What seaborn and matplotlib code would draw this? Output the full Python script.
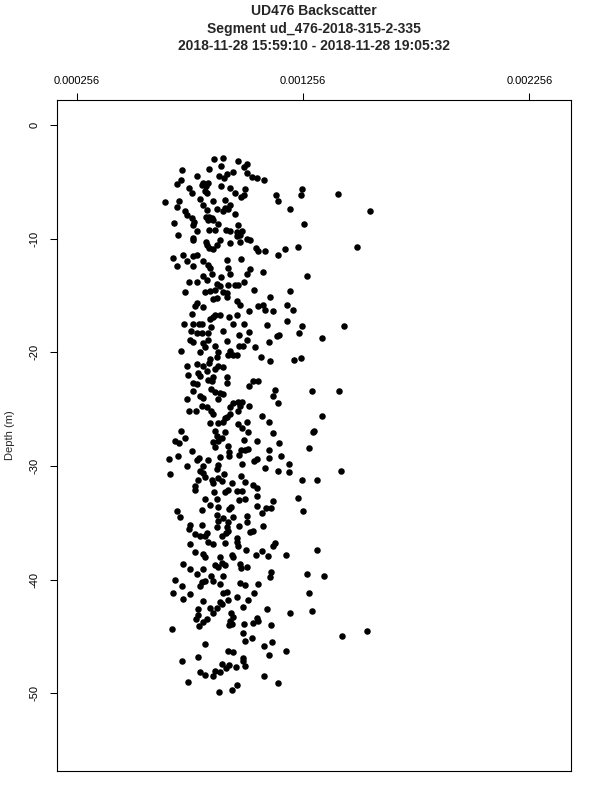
import matplotlib
matplotlib.use("Agg")
import matplotlib.pyplot as plt
import seaborn as sns
import numpy as np
import pandas as pd

# backscatter values in units of 1e-6, depth in m (5 depth bands)
bs_a = [863, 901, 967, 894, 1007, 997, 839, 723, 948, 919,
        786, 885, 907, 1010, 1029, 1051, 1085, 716, 698, 816,
        838, 827, 892, 808, 934, 754, 1000, 1250, 764, 823,
        830, 956, 981, 995, 1137, 1147, 1246, 1409, 646, 708,
        801, 860, 911, 816, 934, 698, 911, 926, 875, 901,
        735, 830, 1199, 1554, 742, 956, 827, 842, 852, 764,
        776, 857, 838, 686, 769, 882, 970, 1261, 842, 867,
        786, 916, 934, 966, 985, 705, 771, 978, 963, 889,
        771, 934, 1010, 1022, 827, 833, 842, 860, 875, 978,
        1048, 1059, 1088, 1177, 1147, 1233, 1493, 727, 769, 786]
depth_a = [-3.0, -2.9, -3.2, -3.6, -3.4, -3.7, -3.9, -4.0, -4.1, -4.3,
           -4.5, -4.5, -4.7, -4.2, -4.6, -4.7, -4.8, -4.8, -5.2, -5.1,
           -5.1, -5.4, -5.4, -5.3, -5.5, -5.5, -5.6, -5.6, -6.0, -5.8,
           -6.0, -6.0, -6.3, -6.2, -6.2, -6.7, -6.2, -6.1, -6.8, -6.7,
           -6.5, -6.7, -6.6, -7.0, -7.0, -7.2, -7.3, -7.4, -7.4, -7.6,
           -7.6, -7.5, -7.4, -7.6, -7.9, -7.8, -8.1, -8.1, -8.2, -8.2,
           -8.5, -8.4, -8.4, -8.6, -8.8, -8.7, -8.8, -8.7, -9.2, -9.2,
           -9.3, -9.2, -9.3, -9.4, -9.3, -9.7, -9.9, -9.7, -9.8, -10.1,
           -10.1, -10.4, -10.0, -10.1, -10.3, -10.6, -10.8, -10.9, -10.6, -10.3,
           -10.8, -11.1, -11.1, -10.9, -11.4, -10.7, -10.7, -11.4, -11.5, -11.4]

bs_b = [683, 742, 816, 838, 919, 981, 698, 769, 845, 926,
        1022, 1081, 934, 816, 852, 830, 892, 1007, 1272, 754,
        786, 875, 926, 956, 970, 995, 735, 823, 845, 867,
        889, 904, 922, 1040, 1199, 860, 875, 919, 1110, 963,
        978, 786, 779, 813, 1059, 1081, 1088, 1125, 1184, 1213,
        764, 867, 889, 845, 860, 931, 966, 1019, 1187, 732,
        771, 798, 808, 848, 948, 995, 1098, 1250, 1437, 760,
        786, 808, 838, 904, 1019, 975, 1240, 1140, 1152, 1342,
        757, 771, 816, 838, 922, 1007, 1106, 823, 867, 975,
        992, 1044, 716, 801, 882, 875, 845, 934, 948, 963,
        923, 1069, 1110, 1216, 1246]
depth_b = [-11.7, -12.0, -12.0, -12.3, -11.9, -11.8, -12.4, -12.4, -12.6, -12.6,
           -12.7, -12.9, -13.1, -13.3, -13.1, -13.6, -13.4, -13.1, -13.3, -13.8,
           -13.8, -14.0, -14.1, -14.1, -14.1, -13.8, -14.7, -14.7, -14.6, -14.5,
           -14.2, -14.7, -14.8, -14.5, -14.6, -15.3, -15.2, -15.1, -15.1, -15.5,
           -15.8, -15.7, -15.9, -16.0, -15.9, -15.8, -16.3, -16.4, -15.8, -16.3,
           -16.6, -16.7, -16.7, -17.1, -16.9, -16.9, -16.7, -16.4, -17.2, -17.5,
           -17.5, -17.5, -17.5, -17.8, -17.5, -17.5, -17.6, -17.7, -17.7, -18.1,
           -18.3, -18.3, -18.3, -18.1, -18.2, -18.5, -18.3, -18.6, -18.5, -18.7,
           -18.9, -19.1, -19.2, -18.9, -19.0, -18.9, -19.1, -19.5, -19.4, -19.4,
           -19.4, -19.5, -19.9, -20.0, -20.0, -20.4, -20.6, -19.9, -20.2, -20.2,
           -20.2, -20.4, -20.8, -20.7, -20.5]

bs_c = [745, 786, 842, 816, 882, 901, 794, 801, 833, 867,
        860, 746, 919, 838, 922, 771, 786, 852, 1019, 1037,
        1059, 769, 848, 867, 889, 904, 1132, 1122, 1294, 1415,
        742, 801, 816, 882, 808, 833, 948, 970, 978, 934,
        985, 1016, 1147, 754, 783, 848, 860, 970, 934, 919,
        911, 1076, 1339, 845, 882, 904, 970, 985, 1010, 1107,
        717, 867, 911, 1015, 1125, 1299, 1306, 875, 897, 690,
        735, 708, 860, 882, 995, 1054, 1152, 926, 867, 1284,
        764, 931, 981, 1015, 1000, 1106, 702, 786, 798, 838,
        889, 931, 975, 1040, 1051, 1107, 1157, 665, 745, 816,
        882, 985, 1196]
depth_c = [-21.2, -21.0, -20.9, -21.2, -21.2, -21.3, -21.8, -22.1, -21.6, -21.5,
           -22.2, -22.0, -22.2, -22.4, -22.7, -22.7, -22.8, -22.5, -23.0, -22.5,
           -22.5, -23.4, -23.2, -23.5, -23.6, -23.7, -23.3, -23.8, -23.4, -23.4,
           -24.1, -23.8, -24.0, -24.1, -24.7, -24.8, -24.5, -24.4, -24.7, -24.8,
           -24.4, -24.7, -24.5, -25.2, -25.2, -25.2, -25.4, -25.2, -25.4, -25.7,
           -25.8, -25.6, -25.6, -26.2, -26.2, -26.1, -26.3, -26.7, -26.1, -26.1,
           -26.9, -26.9, -27.0, -27.0, -27.1, -27.0, -26.9, -27.4, -27.5, -27.8,
           -27.5, -28.0, -27.9, -27.8, -27.7, -27.8, -28.0, -28.2, -28.3, -28.4,
           -28.7, -28.8, -28.6, -28.5, -28.6, -28.6, -29.1, -29.5, -29.3, -29.5,
           -29.2, -29.1, -29.0, -29.6, -29.4, -29.3, -29.1, -29.4, -30.0, -30.0,
           -29.9, -29.8, -29.8]

bs_d = [801, 1088, 1147, 1196, 1423, 668, 813, 875, 907, 794,
        823, 852, 882, 897, 981, 1000, 1250, 1319, 779, 860,
        941, 1037, 1054, 779, 864, 911, 926, 966, 985, 1051,
        1235, 823, 875, 845, 882, 975, 1000, 1122, 808, 936,
        931, 1054, 1093, 1113, 1255, 698, 875, 713, 904, 945,
        1007, 1073, 882, 926, 1007, 757, 808, 875, 919, 975,
        1081, 754, 926, 1022, 1034, 779, 801, 823, 833, 897,
        916, 963, 757, 838, 860, 911, 970, 963, 1122, 1132,
        1317, 779, 816, 823, 889, 941, 948, 1004, 1048, 1073,
        1103, 1181, 727, 867, 897, 911, 978, 1007, 981, 757,
        816, 882, 1113]
depth_d = [-30.4, -30.2, -30.4, -30.5, -30.4, -30.7, -30.6, -30.3, -30.7, -31.2,
           -31.0, -31.2, -31.1, -31.3, -30.9, -31.4, -31.2, -31.2, -31.8, -31.5,
           -31.5, -31.7, -31.9, -32.1, -32.3, -32.3, -32.1, -32.2, -32.2, -32.6,
           -32.8, -32.9, -32.9, -33.4, -33.6, -33.0, -32.9, -33.1, -33.9, -33.6,
           -33.8, -33.5, -33.7, -33.7, -34.0, -34.0, -34.3, -34.5, -34.6, -34.5,
           -34.4, -34.1, -34.8, -34.9, -34.9, -35.2, -35.2, -35.4, -35.4, -35.3,
           -35.3, -35.5, -35.7, -35.8, -35.7, -36.0, -36.2, -36.2, -35.9, -36.2,
           -35.9, -36.3, -36.9, -36.7, -36.9, -36.8, -37.0, -36.7, -37.0, -36.8,
           -37.4, -37.6, -37.7, -38.0, -38.0, -37.8, -38.0, -37.4, -37.8, -37.5,
           -37.9, -37.8, -38.6, -38.7, -38.5, -38.7, -38.6, -38.9, -39.0, -39.1,
           -39.1, -38.9, -39.3]

bs_e = [786, 848, 901, 1110, 1275, 1349, 690, 808, 823, 860,
        889, 978, 1000, 1059, 720, 801, 680, 757, 727, 904,
        922, 1041, 1284, 813, 889, 926, 966, 1012, 897, 845,
        794, 875, 990, 860, 1096, 1199, 1297, 791, 936, 945,
        783, 813, 833, 934, 941, 995, 1034, 1051, 1059, 1113,
        798, 931, 677, 990, 1427, 1540, 1000, 1029, 823, 1085,
        1118, 926, 948, 1107, 1181, 794, 990, 720, 992, 897,
        931, 916, 960, 1000, 801, 823, 867, 860, 889, 1084,
        749, 966, 1147, 886, 941]
depth_e = [-39.5, -39.7, -39.7, -39.8, -39.5, -39.7, -40.0, -40.2, -40.1, -40.1,
           -40.4, -40.3, -40.5, -40.4, -40.6, -40.6, -41.2, -41.3, -41.7, -41.2,
           -41.1, -41.2, -41.2, -41.9, -42.0, -41.8, -41.5, -41.8, -42.1, -42.5,
           -42.6, -42.5, -42.4, -42.9, -42.6, -42.9, -42.8, -43.1, -42.9, -43.3,
           -43.5, -43.7, -43.5, -43.6, -43.9, -43.9, -43.8, -43.4, -43.6, -44.0,
           -44.1, -44.0, -44.3, -44.7, -45.0, -44.5, -45.4, -45.1, -45.7, -45.8,
           -45.5, -46.3, -46.4, -46.6, -46.3, -46.8, -46.9, -47.2, -47.2, -47.4,
           -47.5, -47.8, -47.7, -47.6, -48.1, -48.4, -48.0, -48.5, -48.1, -48.5,
           -49.0, -49.3, -49.1, -49.9, -49.7]

x_ticks = [0.000256, 0.001256, 0.002256]
x_tick_labels = ["0.000256", "0.001256", "0.002256"]
y_ticks = [0, -10, -20, -30, -40, -50]
title_lines = ["UD476 Backscatter",
               "Segment ud_476-2018-315-2-335",
               "2018-11-28 15:59:10 - 2018-11-28 19:05:32"]

df = pd.DataFrame({
    "backscatter": np.array(bs_a + bs_b + bs_c + bs_d + bs_e) * 1e-6,
    "depth": depth_a + depth_b + depth_c + depth_d + depth_e,
})

sns.set_style("white")
plt.rcParams["font.family"] = ["Liberation Sans", "DejaVu Sans"]

fig = plt.figure(figsize=(6, 8), dpi=100)
ax = fig.add_axes([0.095, 0.0366, 0.8567, 0.8384])

sns.scatterplot(data=df, x="backscatter", y="depth", ax=ax,
                color="black", s=22, linewidth=0, marker="o")

ax.set_xlim(0.0001689, 0.0024403)
ax.set_ylim(-56.81, 2.2)

# top axis only, R style
ax.xaxis.tick_top()
ax.set_xticks(x_ticks)
ax.set_xticklabels(x_tick_labels)
ax.set_yticks(y_ticks)
ax.set_yticklabels([str(v) for v in y_ticks], rotation=90, va="center")
ax.tick_params(axis="x", top=True, bottom=False, labeltop=True, labelbottom=False,
               direction="out", length=5.4, width=0.75, pad=5, labelsize=8, colors="black")
ax.tick_params(axis="y", left=True, direction="out", length=5.4, width=0.75,
               pad=7, labelsize=8, colors="black")
ax.set_xlabel("")
ax.set_ylabel("")
for sp in ax.spines.values():
    sp.set_color("black")
    sp.set_linewidth(0.8)
    sp.set_visible(True)

fig.text(10 / 600, 1 - 435 / 800, "Depth (m)", rotation=90,
         ha="center", va="center", fontsize=8)

for i, line in enumerate(title_lines):
    fig.text(314 / 600, 1 - (11 + 17.5 * i) / 800, line, ha="center", va="center",
             fontsize=10, fontweight="bold")

fig.savefig("out.png", dpi=100, facecolor="white")
